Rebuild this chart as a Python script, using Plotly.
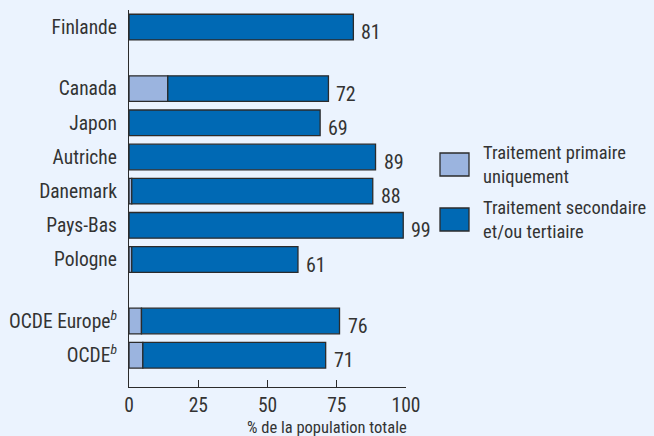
import plotly.graph_objects as go

countries = ["Finlande", "Canada", "Japon", "Autriche", "Danemark", "Pays-Bas", "Pologne",
             "OCDE Europe<sup><i>b</i></sup>", "OCDE<sup><i>b</i></sup>"]
positions = [0, 1.8, 2.8, 3.8, 4.8, 5.8, 6.8, 8.6, 9.6]
primary = [0, 14, 0, 0, 1, 0, 1, 4.5, 5]
totals = [81, 72, 69, 89, 88, 99, 61, 76, 71]
secondary = [t - p for t, p in zip(totals, primary)]
x_ticks = [0, 25, 50, 75, 100]
legend_names = ["Traitement primaire<br>uniquement", "Traitement secondaire<br>et/ou tertiaire"]

LIGHT = "#9BB4DF"
DARK = "#0069B4"
EDGE = "#2b2b2b"
BG = "#EBF3FE"
FONT = "Roboto Condensed, Liberation Sans Narrow, Arial Narrow, sans-serif"
TXT = "#333333"

fig = go.Figure()
fig.add_trace(go.Bar(y=positions, x=primary, orientation="h", width=0.75,
                     marker=dict(color=LIGHT, line=dict(color=EDGE, width=1.3)),
                     name=legend_names[0], showlegend=False))
fig.add_trace(go.Bar(y=positions, x=secondary, base=primary, orientation="h", width=0.75,
                     marker=dict(color=DARK, line=dict(color=EDGE, width=1.3)),
                     name=legend_names[1], showlegend=False))

for y, t in zip(positions, totals):
    fig.add_annotation(x=t, y=y, text=str(t), showarrow=False, xanchor="left", yanchor="middle",
                       xshift=6, yshift=-5, font=dict(family=FONT, size=20, color=TXT))

fig.add_annotation(x=100, xref="x", y=0, yref="paper", yanchor="top", xanchor="right",
                   yshift=-29, xshift=3, text="% de la population totale", showarrow=False,
                   font=dict(family=FONT, size=16.5, color=TXT))

# legend swatches
for i, (col, name) in enumerate(zip([LIGHT, DARK], legend_names)):
    y0 = 153 + i * 55
    fig.add_shape(type="rect", xref="paper", yref="paper",
                  x0=(440 - 129) / 277, x1=(469 - 129) / 277,
                  y0=(387 - (y0 + 23)) / 377, y1=(387 - y0) / 377,
                  fillcolor=col, line=dict(color=EDGE, width=1.3))
    fig.add_annotation(xref="paper", yref="paper", x=(481 - 129) / 277, y=(387 - (y0 + 11.5)) / 377,
                       xanchor="left", yanchor="middle", align="left", text=name, showarrow=False,
                       font=dict(family=FONT, size=18.5, color=TXT))

fig.update_layout(
    width=654, height=436, barmode="overlay",
    paper_bgcolor=BG, plot_bgcolor=BG,
    margin=dict(l=129, r=248, t=10, b=49),
    showlegend=False,
    font=dict(family=FONT, color=TXT),
)
fig.update_xaxes(range=[0, 100], tickvals=x_ticks, ticks="inside", ticklen=7, tickcolor=EDGE,
                 showline=True, linecolor=EDGE, linewidth=1.3, showgrid=False, zeroline=False,
                 automargin=False, tickfont=dict(family=FONT, size=19.5, color=TXT))
fig.update_yaxes(range=[10.53, -0.5], tickvals=positions, ticktext=countries, showline=True,
                 linecolor=EDGE, linewidth=1.3, showgrid=False, zeroline=False, ticks="",
                 automargin=False, ticklabelstandoff=7, tickfont=dict(family=FONT, size=19.5, color=TXT))

fig.write_html("out.html")
